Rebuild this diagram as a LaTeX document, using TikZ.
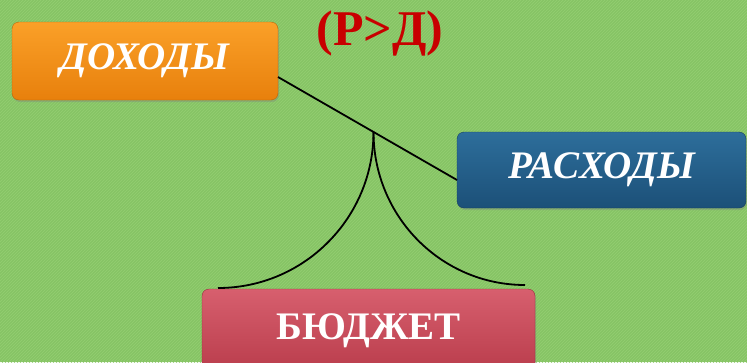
\documentclass[tikz,border=0pt]{standalone}
\usepackage{fontspec}
\setmainfont{Liberation Serif}
\usetikzlibrary{patterns,shadows}
\definecolor{bg}{RGB}{134,196,101}
\definecolor{bgstripe}{RGB}{148,206,114}
\definecolor{titlered}{RGB}{200,0,0}
\definecolor{orA}{RGB}{250,160,40}
\definecolor{orB}{RGB}{232,128,12}
\definecolor{blA}{RGB}{45,110,155}
\definecolor{blB}{RGB}{28,80,120}
\definecolor{rdA}{RGB}{215,95,110}
\definecolor{rdB}{RGB}{185,60,75}
\tikzset{
  btn/.style={rounded corners=7pt, minimum height=78pt, text=white,
    font=\fontsize{39}{44}\selectfont\bfseries,
    drop shadow={shadow xshift=1pt, shadow yshift=-2pt, opacity=0.35}},
  orbtn/.style={btn, top color=orA, bottom color=orB, draw=orB!80!black},
  blbtn/.style={btn, top color=blA, bottom color=blB, draw=blB!80!black},
  rdbtn/.style={btn, top color=rdA, bottom color=rdB, draw=rdB!80!black},
  conn/.style={black, line width=1.8pt}
}
\begin{document}
\begin{tikzpicture}[x=1pt,y=1pt]
\useasboundingbox (0,0) rectangle (747,-362);
\clip (0,0) rectangle (747,-362);
\fill[bg] (0,0) rectangle (747,-362);
\fill[pattern=north east lines, pattern color=bgstripe] (0,0) rectangle (747,-362);
\node[orbtn, minimum width=266pt] (doh) at (145,-61) {\itshape ДОХОДЫ};
\node[blbtn, minimum width=289pt, minimum height=76pt] (ras) at (601.5,-170) {\itshape РАСХОДЫ};
\node[rdbtn, minimum width=333pt, minimum height=84pt] (bud) at (368.5,-331) {БЮДЖЕТ};
\node[text=titlered, font=\fontsize{50}{56}\selectfont\bfseries] (title) at (380,-33) {(Р>Д)};
\coordinate (p1) at (278,-77);
\coordinate (p2) at (457,-180);
\coordinate (piv) at (373.5,-132);
\draw[conn] (p1) -- (p2);
\draw[conn] (piv) arc[start angle=0, end angle=-90, x radius=155.5, y radius=156];
\draw[conn] (piv) arc[start angle=180, end angle=270, x radius=151.5, y radius=153];
\end{tikzpicture}
\end{document}
